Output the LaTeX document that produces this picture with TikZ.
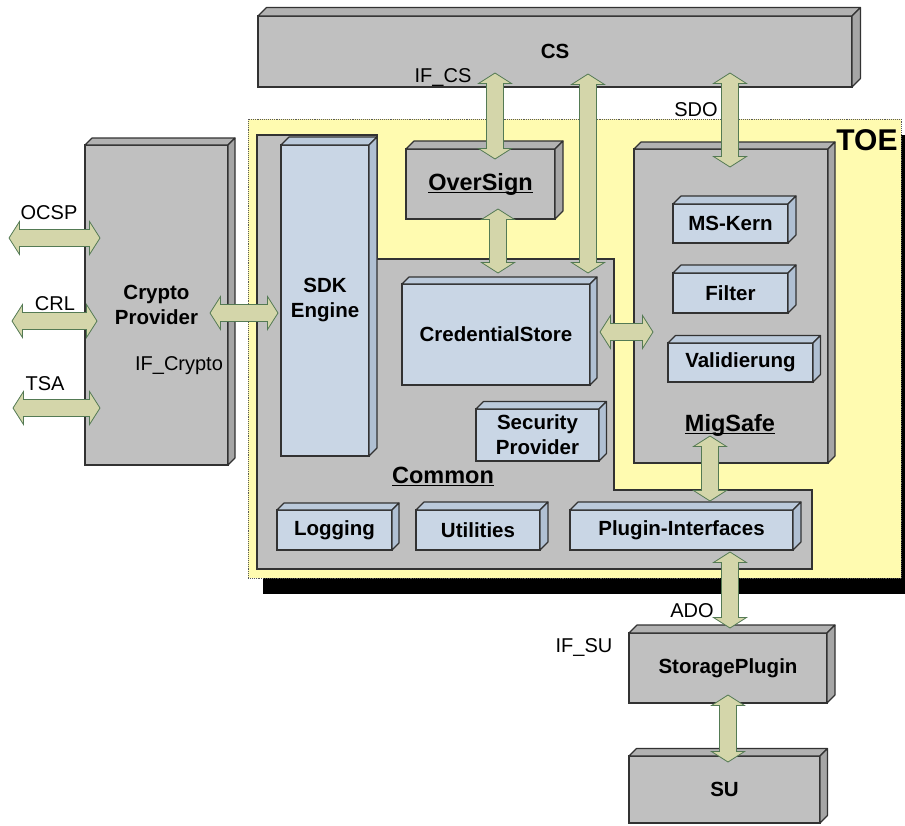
\documentclass[tikz,border=0pt]{standalone}
\usepackage{fontspec}
\setmainfont{Liberation Sans}
\usetikzlibrary{calc}
\definecolor{boxgray}{RGB}{192,192,192}
\definecolor{boxgraytop}{RGB}{178,178,178}
\definecolor{boxgrayside}{RGB}{166,166,166}
\definecolor{boxblue}{RGB}{201,214,229}
\definecolor{boxbluetop}{RGB}{187,202,219}
\definecolor{boxblueside}{RGB}{176,192,211}
\definecolor{toeyellow}{RGB}{255,251,176}
\definecolor{arrfill}{RGB}{212,214,170}
\definecolor{arrline}{RGB}{84,122,84}
\definecolor{edgecol}{RGB}{50,50,50}
\newsavebox\ulbox
\newcommand\myul[1]{\sbox\ulbox{#1}\rlap{\rule[-3.4pt]{\wd\ulbox}{1.6pt}}\usebox\ulbox}
\newcommand\cubefont{\bfseries\fontsize{20.5}{25}\selectfont}
\newcommand\bigfont{\bfseries\fontsize{23.5}{28}\selectfont}
\newcommand\lblfont{\fontsize{20}{24}\selectfont}
\tikzset{
  cube/.style={draw=edgecol, line width=1.1pt, outer sep=0pt, inner sep=0pt, align=center, font=\cubefont},
  face/.style={draw=edgecol, line width=1.1pt, line join=round},
  blockarrow/.style={draw=arrline, fill=arrfill, line width=0.8pt, line join=miter},
  lbl/.style={inner sep=0pt, anchor=base, font=\lblfont},
  biglbl/.style={inner sep=0pt, anchor=base, font=\bigfont},
  toelbl/.style={inner sep=0pt, anchor=base, font=\bfseries\fontsize{30}{34}\selectfont},
  toebox/.style={draw=gray!70!black, densely dotted, line width=0.9pt, fill=toeyellow},
  commonshape/.style={draw=edgecol, line width=1.1pt, fill=boxgray, line join=miter},
}
% #1 colour base, #2 name, #3 x1, #4 y1, #5 x2, #6 y2, #7 depth, #8 text
\newcommand\cubenode[8]{%
  \pgfmathsetmacro\cbX{(#3+#5)/2}\pgfmathsetmacro\cbY{(#4+#6)/2}%
  \pgfmathsetmacro\cbW{#5-#3}\pgfmathsetmacro\cbH{#6-#4}%
  \node[cube, fill=#1, minimum width=\cbW pt, minimum height=\cbH pt] (#2) at (\cbX,\cbY) {#8};
  \filldraw[face, fill=#1top] (#2.north west) -- ([shift={(#7,-#7)}]#2.north west) -- ([shift={(#7,-#7)}]#2.north east) -- (#2.north east) -- cycle;
  \filldraw[face, fill=#1side] (#2.north east) -- ([shift={(#7,-#7)}]#2.north east) -- ([shift={(#7,-#7)}]#2.south east) -- (#2.south east) -- cycle;}
% vertical double block arrow, #1 top tip, #2 bottom tip
\newcommand\varrow[2]{%
  \path[blockarrow] let \p1=(#1), \p2=(#2) in
  (\x1,\y1) -- (\x1+16.5pt,\y1-10.5pt) -- (\x1+8.5pt,\y1-10.5pt) -- (\x1+8.5pt,\y2+10.5pt) -- (\x1+16.5pt,\y2+10.5pt) -- (\x1,\y2)
  -- (\x1-16.5pt,\y2+10.5pt) -- (\x1-8.5pt,\y2+10.5pt) -- (\x1-8.5pt,\y1-10.5pt) -- (\x1-16.5pt,\y1-10.5pt) -- cycle;}
% horizontal double block arrow, #1 left tip, #2 right tip
\newcommand\harrow[2]{%
  \path[blockarrow] let \p1=(#1), \p2=(#2) in
  (\x1,\y1) -- (\x1+10.5pt,\y1+16.5pt) -- (\x1+10.5pt,\y1+8.5pt) -- (\x2-10.5pt,\y1+8.5pt) -- (\x2-10.5pt,\y1+16.5pt) -- (\x2,\y1)
  -- (\x2-10.5pt,\y1-16.5pt) -- (\x2-10.5pt,\y1-8.5pt) -- (\x1+10.5pt,\y1-8.5pt) -- (\x1+10.5pt,\y1-16.5pt) -- cycle;}
\begin{document}
\begin{tikzpicture}[x=1pt, y=-1pt]
\useasboundingbox (0,0) rectangle (905,825);
% TOE area with shadow
\fill[black] (263,135) rectangle (905,594);
\node[toebox, minimum width=653pt, minimum height=459pt, inner sep=0pt, outer sep=0pt] (toe) at (574.5,348.5) {};
% outside boxes
\cubenode{boxgray}{cs}{258}{16}{852}{87}{8.5}{CS}
\cubenode{boxgray}{crypto}{85}{145}{228}{465}{7}{Crypto\\Provider}
% Common region
\path[commonshape] (257,135) -- (377,135) -- (377,259) -- (614,259) -- (614,490) -- (812,490) -- (812,569) -- (257,569) -- cycle;
% inner boxes
\cubenode{boxblue}{sdk}{281}{145}{369}{456}{8}{SDK\\Engine}
\cubenode{boxgray}{oversign}{406}{149}{555}{219}{8}{\bigfont\myul{OverSign}}
\cubenode{boxblue}{cred}{402}{284}{590}{385}{7}{CredentialStore}
\cubenode{boxblue}{secprov}{476}{409}{599}{461}{7.5}{Security\\Provider}
\cubenode{boxgray}{migsafe}{634}{149}{828}{463}{7}{}
\cubenode{boxblue}{mskern}{673}{204}{788}{243}{8}{MS-Kern}
\cubenode{boxblue}{filter}{673}{273}{788}{313}{8}{Filter}
\cubenode{boxblue}{valid}{668}{343}{813}{382}{7.5}{Validierung}
\cubenode{boxblue}{logging}{277}{510}{392}{550}{7}{Logging}
\cubenode{boxblue}{utilities}{416}{510}{540}{550}{8}{Utilities}
\cubenode{boxblue}{plugin}{570}{510}{793}{550}{8}{Plugin-Interfaces}
\cubenode{boxgray}{storage}{629}{633}{827}{703}{8}{StoragePlugin}
\cubenode{boxgray}{su}{629}{756}{820}{823}{7.5}{SU}
% arrow end points
\coordinate (ifcsT) at (495,73);   \coordinate (ifcsB) at (495,159);
\coordinate (midT) at (588,74);    \coordinate (midB) at (588,273);
\coordinate (sdoT) at (730,73);    \coordinate (sdoB) at (730,167);
\coordinate (osT) at (498,209);    \coordinate (osB) at (498,273);
\coordinate (csmL) at (600,332);   \coordinate (csmR) at (653,332);
\coordinate (crL) at (210,313);    \coordinate (crR) at (278,313);
\coordinate (mpT) at (710,436);    \coordinate (mpB) at (710,501);
\coordinate (paT) at (730,552);    \coordinate (paB) at (730,628);
\coordinate (spT) at (728,695);    \coordinate (spB) at (728,762);
\coordinate (ocspL) at (9,238);    \coordinate (ocspR) at (100,238);
\coordinate (crlL) at (12,321);    \coordinate (crlR) at (97,321);
\coordinate (tsaL) at (13,408);    \coordinate (tsaR) at (100,408);
% arrows
\varrow{ifcsT}{ifcsB}
\varrow{midT}{midB}
\varrow{sdoT}{sdoB}
\varrow{osT}{osB}
\harrow{csmL}{csmR}
\harrow{crL}{crR}
\varrow{mpT}{mpB}
\varrow{paT}{paB}
\varrow{spT}{spB}
\harrow{ocspL}{ocspR}
\harrow{crlL}{crlR}
\harrow{tsaL}{tsaR}
% labels
\node[toelbl] (toelabel) at (867,150) {TOE};
\node[biglbl] (commonlabel) at (443,483) {\myul{Common}};
\node[biglbl] (migsafelabel) at (730,431) {\myul{MigSafe}};
\node[lbl] (ocsplabel) at (49,219) {OCSP};
\node[lbl] (crllabel) at (55,310) {CRL};
\node[lbl] (tsalabel) at (45,390) {TSA};
\node[lbl] (ifcryptolabel) at (179,370) {IF\_Crypto};
\node[lbl] (ifcslabel) at (443,82) {IF\_CS};
\node[lbl] (sdolabel) at (696,116) {SDO};
\node[lbl] (adolabel) at (692,617) {ADO};
\node[lbl] (ifsulabel) at (584,652) {IF\_SU};
\end{tikzpicture}
\end{document}
